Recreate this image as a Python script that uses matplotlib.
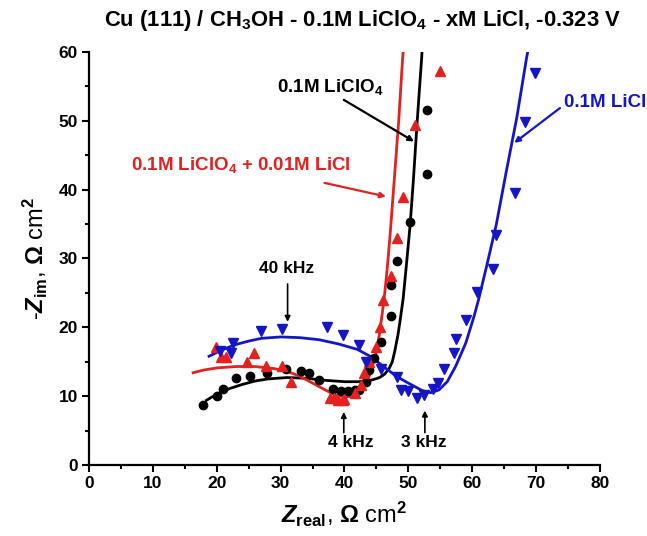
import matplotlib
matplotlib.use("Agg")
import matplotlib.pyplot as plt

plt.rcParams['font.family'] = ['Liberation Sans', 'DejaVu Sans']
plt.rcParams['font.weight'] = 'bold'
plt.rcParams['mathtext.fontset'] = 'custom'
plt.rcParams['mathtext.rm'] = 'Liberation Sans:bold'
plt.rcParams['mathtext.bf'] = 'Liberation Sans:bold'
plt.rcParams['mathtext.it'] = 'Liberation Sans:bold:italic'

RED = '#e3211f'
BLUE = '#1515c8'

# ---- measured points ----
black_x = [17.9, 20.0, 21.0, 23.0, 25.2, 27.9, 30.9, 33.2, 34.5, 36.0, 38.2, 39.5, 40.5,
           41.6, 42.3, 43.4, 43.9, 44.7, 45.7, 47.3, 47.3, 48.3, 50.2, 52.9, 52.9]
black_y = [8.7, 10.0, 11.1, 12.7, 12.9, 13.3, 13.9, 13.6, 13.4, 12.3, 11.1, 10.8, 10.7,
           10.9, 10.9, 12.1, 13.8, 15.5, 17.8, 21.7, 26.2, 29.7, 35.3, 42.3, 51.5]

red_x = [19.9, 20.7, 21.5, 24.8, 25.8, 27.7, 30.3, 31.7, 37.7, 38.4, 39.0, 39.7, 40.0,
         41.6, 42.6, 43.1, 43.8, 45.0, 45.5, 46.1, 47.3, 48.3, 49.1, 51.1, 55.0]
red_y = [17.2, 15.7, 15.7, 14.9, 16.3, 14.4, 14.4, 12.0, 9.7, 9.7, 9.4, 9.4, 9.6,
         10.4, 11.6, 13.3, 15.0, 17.2, 20.1, 24.0, 27.4, 33.0, 38.9, 49.4, 57.2]

blue_x = [20.5, 22.3, 22.5, 26.9, 30.3, 37.2, 39.7, 42.3, 43.4, 45.7, 48.3, 48.9, 49.9,
          51.3, 52.5, 53.8, 54.6, 55.6, 57.2, 57.5, 59.0, 60.7, 63.2, 63.7, 66.7, 68.3, 69.9]
blue_y = [16.5, 16.2, 17.7, 19.4, 19.7, 20.1, 18.9, 17.4, 14.9, 14.0, 12.8, 10.9, 10.7,
          9.8, 10.2, 11.1, 11.9, 14.0, 16.2, 18.3, 21.1, 25.1, 28.4, 33.4, 39.5, 49.8, 56.9]

# ---- fitted curves ----
black_fit_x = [18.4, 20, 22, 24, 26, 28, 31, 34, 37, 40, 42, 43.5, 44.5, 45.5, 46.3,
               47.0, 47.5, 47.9, 48.4, 48.8, 49.2, 49.7, 50.3, 50.8, 51.4, 52.1, 52.15]
black_fit_y = [9.4, 10.3, 11.1, 11.7, 12.2, 12.5, 12.7, 12.6, 12.3, 12.1, 12.1, 12.2, 12.4,
               12.7, 13.2, 14.0, 15.0, 16.6, 19.0, 21.5, 24.2, 29.0, 35.0, 41.4, 50.0, 59.2, 60.0]

red_fit_x = [16.3, 18, 20, 23, 26, 29, 31, 33, 35, 37, 38.5, 40, 41.5, 42.5, 43.5, 44.3,
             45, 45.5, 46.2, 46.7, 47.2, 47.8, 48.5, 49.1, 49.2]
red_fit_y = [13.4, 13.8, 14.1, 14.3, 14.3, 14.0, 13.6, 12.9, 11.9, 10.9, 10.2, 9.9, 10.0,
             10.6, 12.0, 14.0, 16.5, 19.1, 24.0, 28.5, 34.0, 41.4, 50.0, 58.9, 60.0]

blue_fit_x = [18.8, 21, 23, 25, 27, 30, 33, 36, 39, 42, 44, 46, 48.1, 50, 52.2, 53.5,
              54.8, 56.1, 57.4, 59.0, 60.3, 61.0, 62.3, 63.8, 65.3, 67, 68.5, 68.7]
blue_fit_y = [15.8, 16.8, 17.5, 18.0, 18.4, 18.6, 18.5, 18.2, 17.6, 16.8, 15.8, 14.4,
              12.9, 11.9, 10.8, 10.5, 10.9, 12.1, 14.3, 17.7, 21.6, 24.0, 29.0, 35.0,
              42.4, 50.5, 59.0, 60.0]

xticks = [0, 10, 20, 30, 40, 50, 60, 70, 80]
yticks = [0, 10, 20, 30, 40, 50, 60]

fig = plt.figure(figsize=(6.47, 5.36), dpi=100)
ax = fig.add_axes([0.1376, 0.1325, 0.7895, 0.7705])

ax.plot(black_fit_x, black_fit_y, color='black', lw=2)
ax.plot(red_fit_x, red_fit_y, color=RED, lw=2)
ax.plot(blue_fit_x, blue_fit_y, color=BLUE, lw=2)

ax.plot(black_x, black_y, 'o', color='black', ms=6, ls='none')
ax.plot(red_x, red_y, '^', color=RED, ms=7.5, ls='none')
ax.plot(blue_x, blue_y, 'v', color=BLUE, ms=7.5, ls='none')

ax.set_xlim(0, 80)
ax.set_ylim(0, 60)
ax.set_xticks(xticks)
ax.set_yticks(yticks)
ax.set_xticks(range(5, 80, 10), minor=True)
ax.set_yticks(range(5, 60, 10), minor=True)
for s in ['top', 'right']:
    ax.spines[s].set_visible(False)
for s in ['left', 'bottom']:
    ax.spines[s].set_linewidth(1.6)
ax.tick_params(axis='both', which='major', length=5, width=1.5, labelsize=12.5, pad=3)
ax.tick_params(axis='both', which='minor', length=3, width=1.5)
for lab in ax.get_xticklabels() + ax.get_yticklabels():
    lab.set_fontweight('bold')

ax.set_xlabel(r'$Z_{\mathrm{real}}$, $\Omega$ cm$^{2}$', fontsize=17, labelpad=6)
ax.set_ylabel(r'-$Z_{\mathrm{im}}$, $\Omega$ cm$^{2}$', fontsize=17, labelpad=6)
fig.text(0.56, 0.962, r'Cu (111) / CH$_3$OH - 0.1M LiClO$_4$ - xM LiCl, -0.323 V',
         ha='center', va='center', fontsize=15.8, fontweight='bold')

ap = dict(arrowstyle='-|>', lw=1.6, mutation_scale=8, shrinkA=0, shrinkB=0)

ax.annotate(r'0.1M LiClO$_4$', xy=(50.9, 47.0), xytext=(37.7, 54.9),
            ha='center', va='center', fontsize=13.5, fontweight='bold', color='black',
            arrowprops=dict(ap, color='black', relpos=(0.62, -0.1)))
ax.annotate(r'0.1M LiClO$_4$ + 0.01M LiCl', xy=(46.5, 39.0), xytext=(23.8, 43.6),
            ha='center', va='center', fontsize=13.5, fontweight='bold', color=RED,
            arrowprops=dict(ap, color=RED, relpos=(0.88, -0.4)))
ax.annotate('0.1M LiCl', xy=(66.6, 46.8), xytext=(74.4, 52.6),
            ha='left', va='center', fontsize=13.5, fontweight='bold', color=BLUE,
            arrowprops=dict(ap, color=BLUE, relpos=(-0.05, 0.2)))

ax.text(30.9, 28.6, '40 kHz', ha='center', va='center', fontsize=12.5, fontweight='bold')
ax.annotate('', xy=(31.1, 20.8), xytext=(31.1, 26.3), arrowprops=dict(ap, color='black', lw=1.2))
ax.text(41.0, 3.2, '4 kHz', ha='center', va='center', fontsize=12.5, fontweight='bold')
ax.annotate('', xy=(39.9, 7.7), xytext=(39.9, 4.7), arrowprops=dict(ap, color='black', lw=1.2))
ax.text(52.5, 3.2, '3 kHz', ha='center', va='center', fontsize=12.5, fontweight='bold')
ax.annotate('', xy=(52.6, 7.9), xytext=(52.6, 4.7), arrowprops=dict(ap, color='black', lw=1.2))

fig.savefig('out.png', dpi=100)
